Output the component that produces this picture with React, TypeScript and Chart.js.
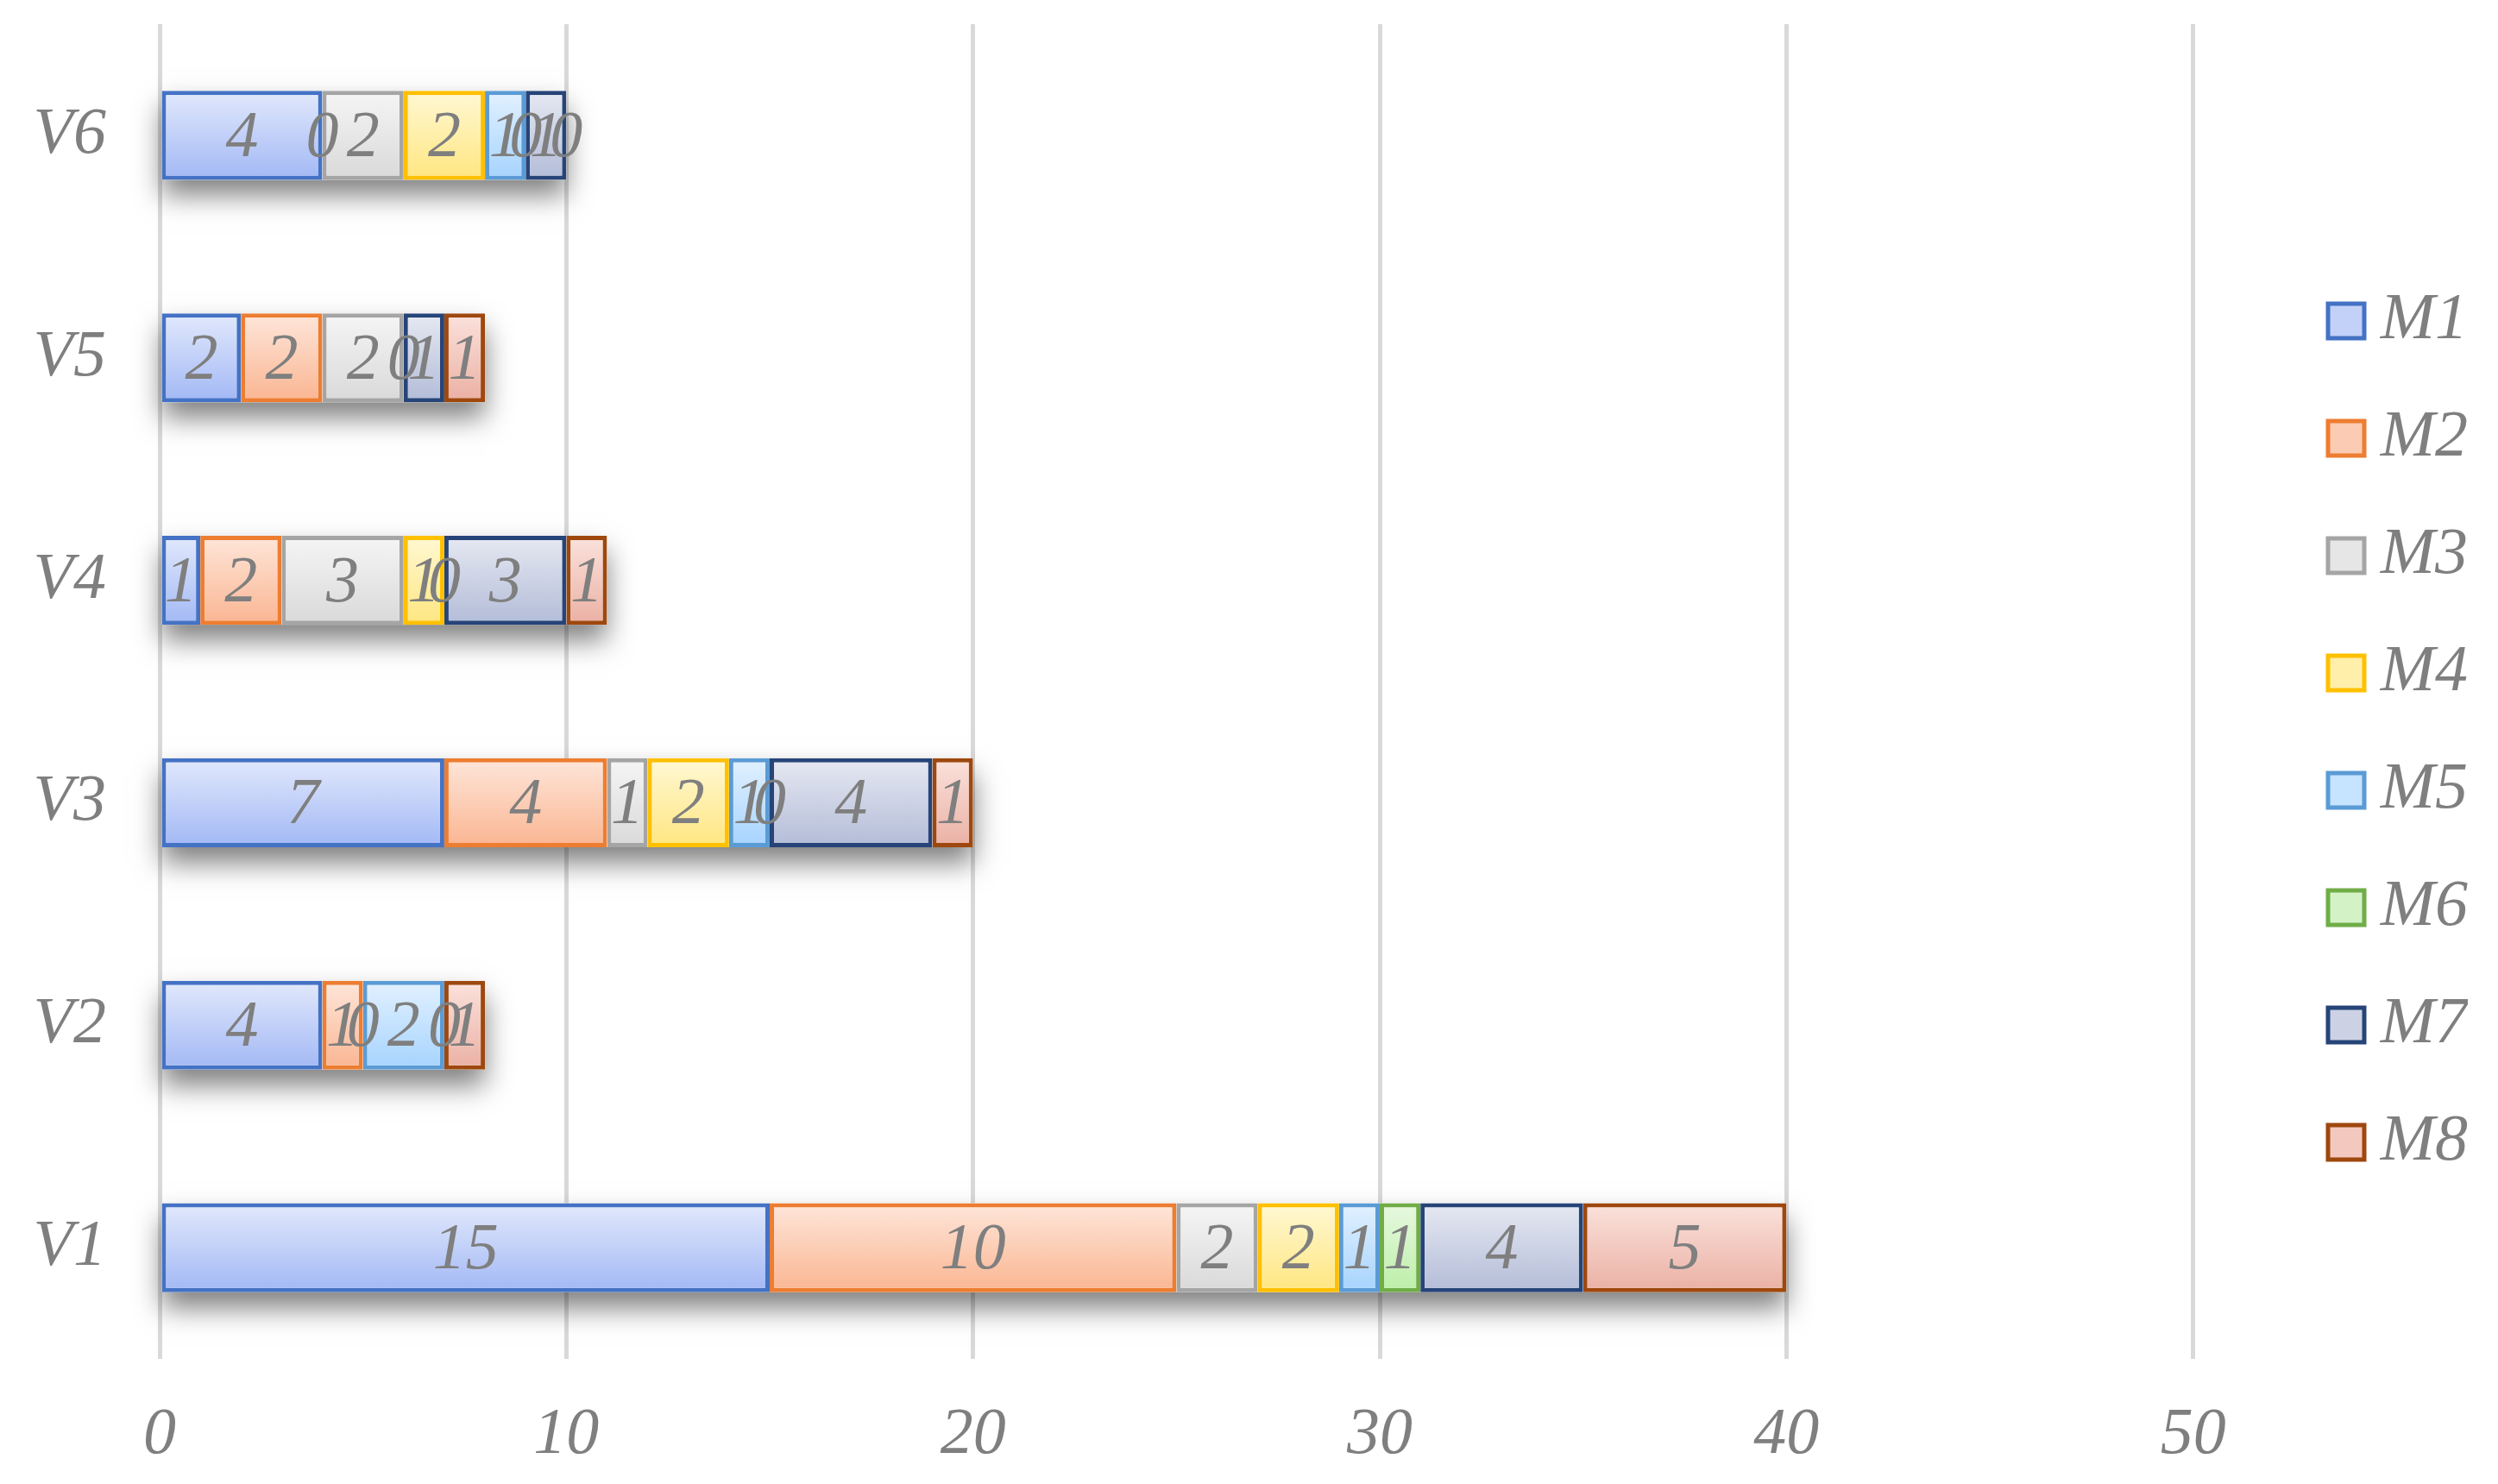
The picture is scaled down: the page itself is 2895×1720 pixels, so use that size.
import { useEffect, useRef } from "react";
import { Chart, registerables } from "chart.js";

Chart.register(...registerables);

// categories, bottom to top
const categories = ["V1", "V2", "V3", "V4", "V5", "V6"];
const seriesNames = ["M1", "M2", "M3", "M4", "M5", "M6", "M7", "M8"];

// values per series, one per category (null = no segment / no label)
const m1 = [15, 4, 7, 1, 2, 4];
const m2 = [10, 1, 4, 2, 2, 0];
const m3 = [2, 0, 1, 3, 2, 2];
const m4 = [2, null, 2, 1, null, 2];
const m5 = [1, 2, 1, 0, null, 1];
const m6 = [1, null, 0, null, 0, 0];
const m7 = [4, 0, 4, 3, 1, 1];
const m8 = [5, 1, 1, 1, 1, 0];
const seriesValues = [m1, m2, m3, m4, m5, m6, m7, m8];

const xTicks = [0, 10, 20, 30, 40, 50];

// styles
const borderColors = ["#4472c4", "#ed7d31", "#a5a5a5", "#ffc000", "#5b9bd5", "#70ad47", "#264478", "#9e480e"];
const fillTop = ["#e2e9fc", "#fee6da", "#f5f5f5", "#fff8d4", "#e2f1ff", "#e8f8e0", "#e6e9f2", "#fae2dc"];
const fillBottom = ["#a2b8f5", "#fab591", "#d9d9d9", "#ffe680", "#a6d3ff", "#bcefa8", "#b3bcd8", "#ebb0a4"];
const legendFill = ["#c3d1f8", "#fccbb3", "#e6e6e6", "#ffefaa", "#c6e3ff", "#d3f3c6", "#ccd2e4", "#f3c8bf"];

const FONT = '"Liberation Serif", "Times New Roman", serif';
const FONT_SIZE = 76;
const TEXT_GRAY = "#7f7f7f";
const BAR_PCT = 0.4;
const LEGEND_PAD = 60;

const barShadow = {
  id: "barShadow",
  beforeDatasetsDraw(chart: any) {
    const ctx = chart.ctx;
    const metas = chart.getSortedVisibleDatasetMetas();
    ctx.save();
    ctx.shadowColor = "rgba(0,0,0,0.5)";
    ctx.shadowBlur = 30;
    ctx.shadowOffsetY = 18;
    ctx.fillStyle = "#ffffff";
    categories.forEach((_, i) => {
      let left = Infinity;
      let right = -Infinity;
      let top = 0;
      let h = 0;
      metas.forEach((meta: any) => {
        const el = meta.data[i];
        if (!el || meta._dataset.data[i] === null) return;
        left = Math.min(left, el.x, el.base);
        right = Math.max(right, el.x, el.base);
        top = el.y - el.height / 2;
        h = el.height;
      });
      if (right > left) ctx.fillRect(left, top, right - left, h);
    });
    ctx.restore();
  },
};

const valueLabels = {
  id: "valueLabels",
  afterDatasetsDraw(chart: any) {
    const ctx = chart.ctx;
    ctx.save();
    ctx.font = `italic ${FONT_SIZE}px ${FONT}`;
    ctx.fillStyle = TEXT_GRAY;
    ctx.textAlign = "center";
    ctx.textBaseline = "middle";
    chart.getSortedVisibleDatasetMetas().forEach((meta: any) => {
      meta.data.forEach((el: any, i: number) => {
        const v = meta._dataset.data[i];
        if (v === null || v === undefined) return;
        ctx.fillText(String(v), (el.x + el.base) / 2, el.y + 4);
      });
    });
    ctx.restore();
  },
};

// place the legend column near the right edge, leaving the plot area as is
const legendShift = {
  id: "legendShift",
  afterLayout(chart: any) {
    const lg = chart.legend;
    if (!lg) return;
    const boxLeft = 2698;
    const textRight = 2860;
    const dy = -26;
    lg.left = boxLeft - LEGEND_PAD;
    lg.right = textRight;
    lg.width = lg.right - lg.left;
    lg.top += dy;
    lg.bottom += dy;
  },
};

export default function App() {
  const canvasRef = useRef<HTMLCanvasElement | null>(null);

  useEffect(() => {
    document.body.style.margin = "0";
    if (!canvasRef.current) return;

    const datasets = seriesNames.map((name, si) => ({
      label: name,
      data: seriesValues[si],
      borderColor: borderColors[si],
      borderWidth: 5,
      borderSkipped: false as const,
      barPercentage: BAR_PCT,
      categoryPercentage: 1,
      backgroundColor: (c: any) => {
        const chart = c.chart;
        const area = chart.chartArea;
        const y = chart.scales?.y;
        if (!area || !y || c.type !== "data") return fillBottom[si];
        const band = (area.bottom - area.top) / categories.length;
        const half = (band * BAR_PCT) / 2;
        const cy = y.getPixelForValue(c.dataIndex);
        const g = chart.ctx.createLinearGradient(0, cy - half, 0, cy + half);
        g.addColorStop(0, fillTop[si]);
        g.addColorStop(1, fillBottom[si]);
        return g;
      },
    }));

    const chart = new Chart(canvasRef.current, {
      type: "bar",
      data: { labels: categories, datasets },
      options: {
        indexAxis: "y",
        animation: false,
        responsive: true,
        maintainAspectRatio: false,
        devicePixelRatio: 1,
        layout: { padding: { top: 28, right: 102, bottom: 0, left: 0 } },
        scales: {
          x: {
            stacked: true,
            min: xTicks[0],
            max: xTicks[xTicks.length - 1],
            afterBuildTicks: (s: any) => {
              s.ticks = xTicks.map((v) => ({ value: v }));
            },
            afterFit: (s: any) => {
              s.height = 145;
              s.paddingLeft = 0;
            },
            grid: { color: "#d9d9d9", lineWidth: 5, drawTicks: false },
            border: { display: false },
            ticks: {
              padding: 43,
              color: TEXT_GRAY,
              font: { family: FONT, size: FONT_SIZE, style: "italic" },
            },
          },
          y: {
            stacked: true,
            reverse: true,
            afterFit: (s: any) => {
              s.width = 185;
              s.paddingTop = 0;
              s.paddingBottom = 0;
            },
            grid: { display: false, drawTicks: false },
            border: { display: false },
            ticks: {
              padding: 62,
              color: TEXT_GRAY,
              font: { family: FONT, size: FONT_SIZE, style: "italic" },
            },
          },
        },
        plugins: {
          tooltip: { enabled: false },
          legend: {
            position: "right",
            labels: {
              boxWidth: 42,
              boxHeight: 40,
              padding: LEGEND_PAD,
              textAlign: "right",
              color: TEXT_GRAY,
              font: { family: FONT, size: FONT_SIZE, style: "italic" },
              generateLabels: () =>
                seriesNames.map((n, i) => ({
                  text: n,
                  fillStyle: legendFill[i],
                  strokeStyle: borderColors[i],
                  lineWidth: 5,
                  hidden: false,
                  datasetIndex: i,
                  fontColor: TEXT_GRAY,
                })),
            },
          },
        },
      },
      plugins: [barShadow, valueLabels, legendShift],
    });

    return () => {
      chart.destroy();
    };
  }, []);

  return (
    <div style={{ width: "2895px", height: "1720px", position: "relative", background: "#ffffff" }}>
      <canvas ref={canvasRef} />
    </div>
  );
}
